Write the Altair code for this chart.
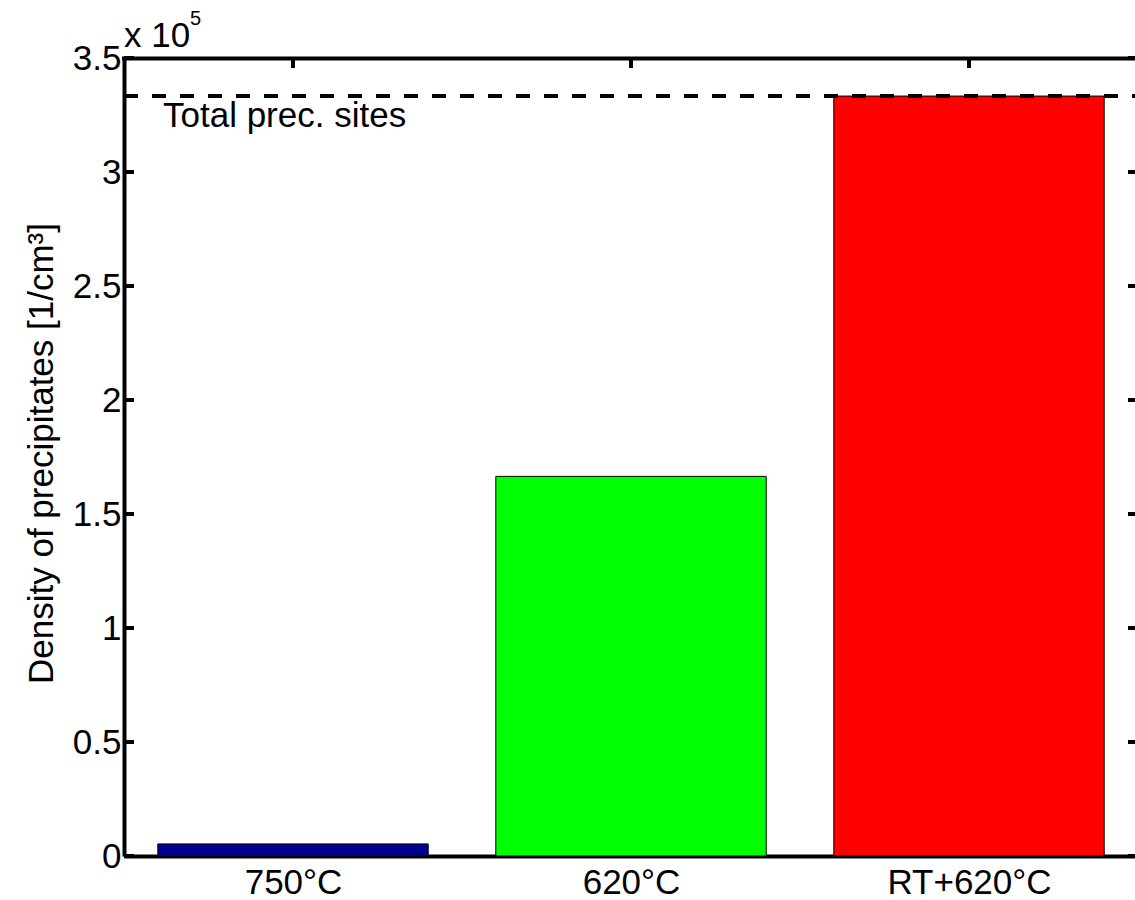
import json
import altair as alt
import pandas as pd

# ---- data ----
categories = ["750°C", "620°C", "RT+620°C"]
positions = [1, 2, 3]
density = [5300, 166500, 333300]          # precipitates per cm^3
bar_colors = ["#00008F", "#00FF00", "#FF0000"]
total_sites = 333300
y_tick_values = [0, 50000, 100000, 150000, 200000, 250000, 300000, 350000]
y_label = "Density of precipitates [1/cm³]"
exponent_base = "x 10"
exponent_power = "5"
total_label = "Total prec. sites"

# ---- layout / style ----
FONT = "Liberation Sans"
FS = 35
W, H = 1011, 798
HALF_BAR = 0.4
X_DOMAIN = [0.5, 0.5 + W / 338.0]
Y_DOMAIN = [0, 350000]
TICK_LEN = 10

bars_df = pd.DataFrame({
    "category": categories,
    "pos": positions,
    "lo": [p - HALF_BAR for p in positions],
    "hi": [p + HALF_BAR for p in positions],
    "density": density,
    "base": [0] * len(categories),
})
ticks_df = pd.DataFrame({"v": y_tick_values})
pos_df = pd.DataFrame({"pos": positions})
total_df = pd.DataFrame({"total": [total_sites], "label": [total_label]})

xscale = alt.Scale(domain=X_DOMAIN, nice=False, zero=False)
yscale = alt.Scale(domain=Y_DOMAIN, nice=False)

label_expr = json.dumps(categories) + "[datum.value - 1]"

bars = alt.Chart(bars_df).mark_bar(stroke="black", strokeWidth=1, opacity=1).encode(
    x=alt.X("lo:Q", scale=xscale,
            axis=alt.Axis(values=positions, labelExpr=label_expr, title=None,
                          labelPadding=9, ticks=False, tickSize=0, grid=False)),
    x2="hi:Q",
    y=alt.Y("density:Q", scale=yscale,
            axis=alt.Axis(values=y_tick_values,
                          labelExpr="'' + (datum.value / 100000)",
                          title=y_label, titleX=-72, titleY=395, titleAngle=-90,
                          titleAlign="center", titleBaseline="alphabetic",
                          labelPadding=3, ticks=False, tickSize=0, grid=False)),
    y2="base:Q",
    color=alt.Color("category:N", scale=alt.Scale(domain=categories, range=bar_colors),
                    legend=None),
)

dash = alt.Chart(total_df).mark_rule(color="black", strokeWidth=4, strokeDash=[14, 14]).encode(
    y=alt.Y("total:Q", scale=yscale),
    x=alt.value(0), x2=alt.value(W),
)

dash_text = alt.Chart(total_df).mark_text(
    font=FONT, fontSize=FS, align="left", baseline="alphabetic", dy=31, color="black"
).encode(
    y=alt.Y("total:Q", scale=yscale), x=alt.value(39), text="label:N"
)

left_ticks = alt.Chart(ticks_df).mark_rule(color="black", strokeWidth=4).encode(
    y=alt.Y("v:Q", scale=yscale), x=alt.value(0), x2=alt.value(TICK_LEN)
)
right_ticks = alt.Chart(ticks_df).mark_rule(color="black", strokeWidth=4).encode(
    y=alt.Y("v:Q", scale=yscale), x=alt.value(W + 3 - TICK_LEN), x2=alt.value(W + 3)
)
top_ticks = alt.Chart(pos_df).mark_rule(color="black", strokeWidth=4).encode(
    x=alt.X("pos:Q", scale=xscale), y=alt.value(0), y2=alt.value(TICK_LEN)
)
top_border = alt.Chart(pos_df.head(1)).mark_rule(color="black", strokeWidth=4).encode(
    x=alt.value(-2), x2=alt.value(W), y=alt.value(0.5)
)

exp_df = pd.DataFrame({"base": [exponent_base], "pw": [exponent_power]})
exp_base = alt.Chart(exp_df).mark_text(
    font=FONT, fontSize=FS, align="left", baseline="alphabetic", color="black"
).encode(x=alt.value(0), y=alt.value(-11), text="base:N")
exp_pow = alt.Chart(exp_df).mark_text(
    font=FONT, fontSize=20, align="left", baseline="alphabetic", color="black"
).encode(x=alt.value(66), y=alt.value(-33), text="pw:N")

chart = alt.layer(
    bars, left_ticks, right_ticks, top_ticks, top_border, dash, dash_text, exp_base, exp_pow
).resolve_scale(x="shared", y="shared").properties(
    width=W, height=H,
    autosize=alt.AutoSizeParams(type="none"),
    padding={"left": 124, "top": 58, "right": 0, "bottom": 44},
    background="white",
).configure_view(stroke=None).configure_axis(
    labelFont=FONT, labelFontSize=FS, labelColor="black",
    titleFont=FONT, titleFontSize=FS, titleColor="black", titleFontWeight="normal",
    domainColor="black", domainWidth=4,
)

chart.save("out.html", embed_options={"renderer": "svg", "actions": False})
